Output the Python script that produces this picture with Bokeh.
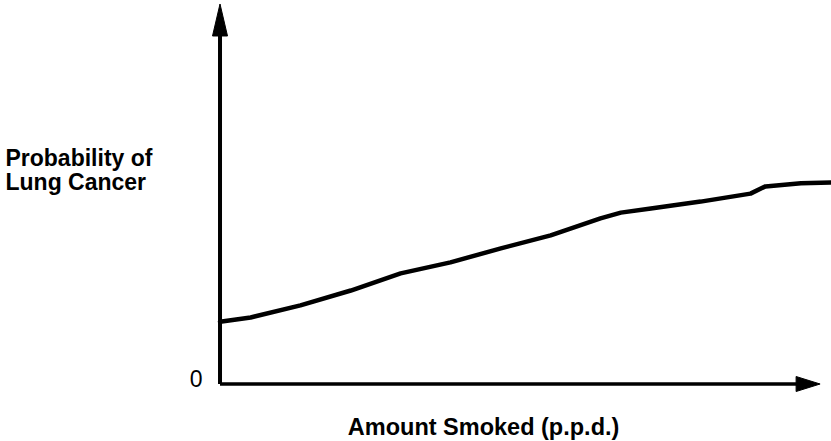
from bokeh.plotting import figure
from bokeh.models import Range1d, Label
from bokeh.embed import file_html
from bokeh.resources import INLINE

# Curve data (x: packs per day units, y: probability scale)
amount = [0.0, 0.51, 1.34, 2.18, 3.01, 3.84, 4.68, 5.51, 6.34, 6.68, 7.18, 8.01, 8.84, 9.09, 9.68, 10.19]
prob = [0.164, 0.175, 0.207, 0.246, 0.291, 0.320, 0.357, 0.391, 0.436, 0.451, 0.462, 0.480, 0.501, 0.520, 0.528, 0.530]

x_axis_end = 10.0
y_axis_end = 1.0

y_label_lines = ["Probability of", "Lung Cancer"]
x_label = "Amount Smoked (p.p.d.)"
origin_label = "0"

W, H = 831, 441
x0, x1 = -3.658, 10.19
y0, y1 = -0.1513, 1.0092
px_x = W / (x1 - x0)   # pixels per data unit (x)
px_y = H / (y1 - y0)   # pixels per data unit (y)

p = figure(width=W, height=H, x_range=Range1d(x0, x1), y_range=Range1d(y0, y1),
           output_backend="svg", toolbar_location=None, min_border=0,
           x_axis_type=None, y_axis_type=None)
p.grid.visible = False
p.outline_line_color = None
p.background_fill_color = "white"
p.border_fill_color = "white"

# axes lines
p.line([0, 0], [0, y_axis_end - 20 / px_y], line_color="black", line_width=4)
p.line([0, x_axis_end - 15 / px_x], [0, 0], line_color="black", line_width=3.5)

# arrow heads (sizes in pixels converted to data units)
hl, hw = 32, 15
p.patch([0, -hw / 2 / px_x, hw / 2 / px_x],
        [y_axis_end, y_axis_end - hl / px_y, y_axis_end - hl / px_y],
        fill_color="black", line_color="black")
hl2, hw2 = 24, 15
p.patch([x_axis_end, x_axis_end - hl2 / px_x, x_axis_end - hl2 / px_x],
        [0, hw2 / 2 / px_y, -hw2 / 2 / px_y],
        fill_color="black", line_color="black")

# curve
p.line(amount, prob, line_color="black", line_width=4.5, line_join="round", line_cap="round")

font = "Liberation Sans"
p.add_layout(Label(x=-3.575, y=0.596, text=y_label_lines[0], text_font=font,
                   text_font_style="bold", text_font_size="23px", text_baseline="alphabetic",
                   text_color="black"))
p.add_layout(Label(x=-3.575, y=0.532, text=y_label_lines[1], text_font=font,
                   text_font_style="bold", text_font_size="23px", text_baseline="alphabetic",
                   text_color="black"))
p.add_layout(Label(x=-0.29, y=0.0144, text=origin_label, text_font=font,
                   text_font_size="23px", text_align="right", text_baseline="alphabetic",
                   text_color="black"))
p.add_layout(Label(x=4.392, y=-0.1119, text=x_label, text_font=font,
                   text_font_style="bold", text_font_size="23.5px", text_align="center",
                   text_baseline="alphabetic", text_color="black"))

open("out.html", "w").write(file_html(p, INLINE))
